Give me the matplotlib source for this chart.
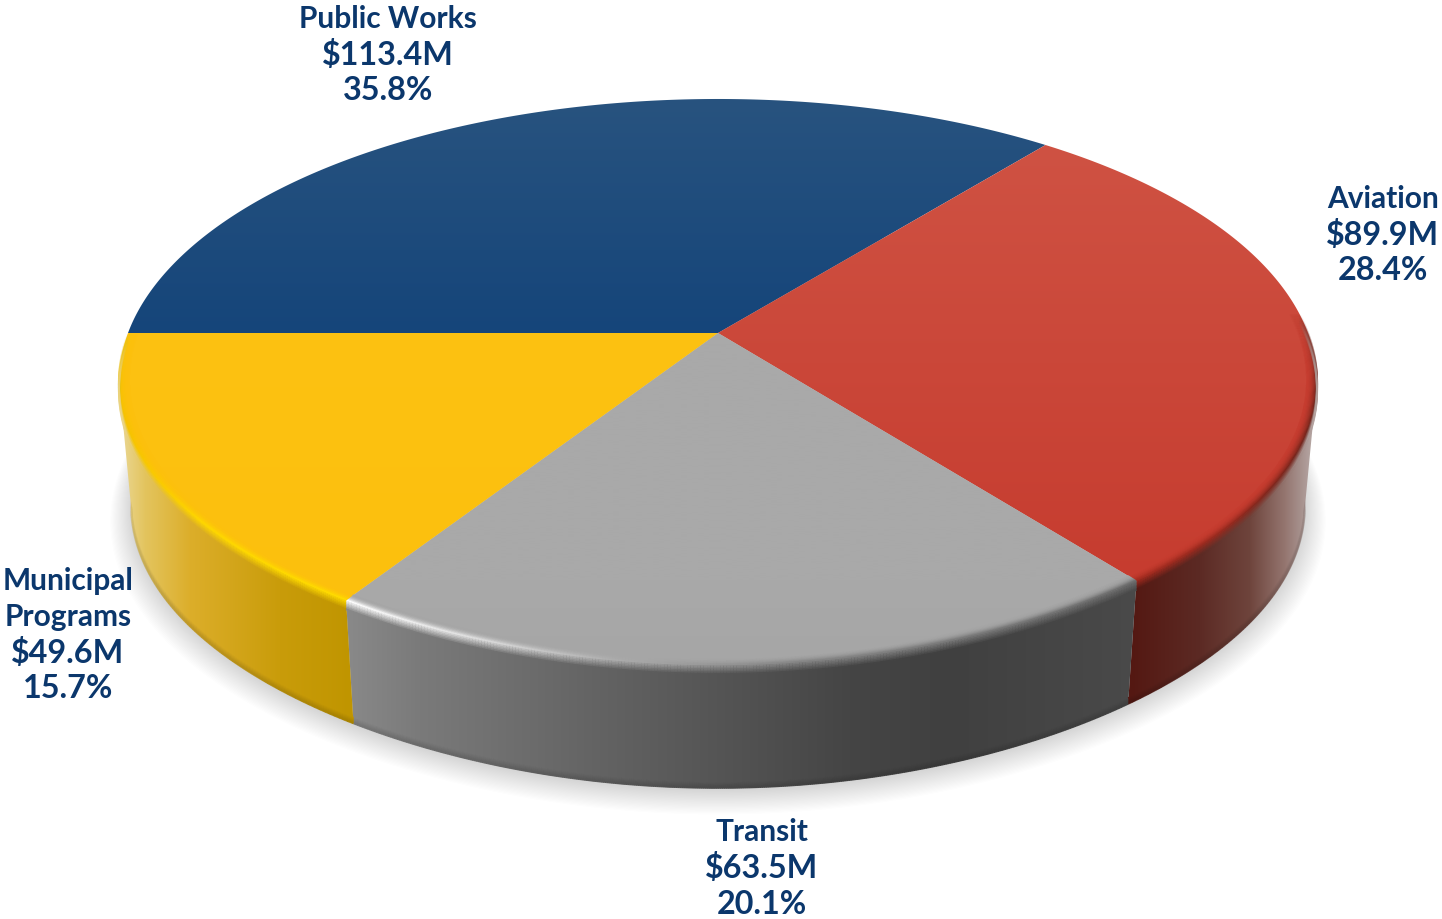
"""Recreate the 3D budget pie chart with patches and clipped gradients."""

import numpy as np
import matplotlib

matplotlib.use("Agg")
import matplotlib.pyplot as plt
from matplotlib.collections import LineCollection
from matplotlib.colors import to_rgb
from matplotlib.patches import Polygon

# Data, clockwise starting at the left edge of the pie
names = ["Public Works", "Aviation", "Transit", "Municipal\nPrograms"]
amounts = [113.4, 89.9, 63.5, 49.6]

# Slice top colours (far edge, near edge)
top_colors = [
    ("#28537f", "#15457a"),
    ("#cf5243", "#c63c2f"),
    ("#a9a9a9", "#a6a6a6"),
    ("#fcc212", "#fdc00d"),
]
# Side wall gradients: x stops and colours
side_stops = {
    1: ([1131, 1200, 1250, 1285, 1300, 1312], ["#541812", "#5c2a24", "#6e443c", "#94756f", "#a58f8b", "#b5a5a2"]),
    2: ([343, 420, 600, 850, 950, 1140], ["#8a8a8a", "#7a7a7a", "#636363", "#454545", "#404040", "#4a4a4a"]),
    3: ([122, 145, 190, 280, 352], ["#ead690", "#e3c45e", "#dcae2a", "#c99c0a", "#c09500"]),
}
# Rim highlight colours along x
rim_stops = {
    1: ([1131, 1220, 1312], ["#a52c20", "#962a1f", "#6e241b"]),
    2: ([343, 480, 620, 800, 1140], ["#ffffff", "#dcdcdc", "#aaaaaa", "#858585", "#6c6c6c"]),
    3: ([120, 200, 350], ["#f6c200", "#ffd800", "#ffdb00"]),
}
label_centers = {
    "Public Works": (388, 55),
    "Aviation": (1383, 235),
    "Transit": (762, 868),
    "Municipal\nPrograms": (68, 635),
}

# Pie projection
CX, CY = 718, 333
HALF_W, HALF_H = 590, 274.5
PERSP = 0.173
NEAR_PINCH = 0.05
WALL_SCALE = 0.98
WALL_CY = 457
WALL_B = 274
LINE_STEP = 36


def project(theta, r=1.0, cy=CY, a=HALF_W, b=HALF_H):
    u = r * np.cos(theta)
    v = r * np.sin(theta)
    w = 1 + PERSP * v
    pinch = 1 - NEAR_PINCH * np.minimum(v, 0) ** 4
    return CX + a * u / w * pinch, cy - b * v / w


def wall(theta, r=1.0, dy=0.0):
    return project(theta, r, cy=WALL_CY + dy, a=HALF_W * WALL_SCALE, b=WALL_B)


def gradient_fill(ax, poly, rgb_image, zorder):
    patch = Polygon(poly, closed=True, facecolor="none", edgecolor="none", zorder=zorder)
    ax.add_patch(patch)
    im = ax.imshow(rgb_image, extent=(0, 1442, 919, 0), aspect="auto",
                   interpolation="bilinear", zorder=zorder)
    im.set_clip_path(patch)


def interp_colors(x, stops):
    xs, cols = stops
    rgb = np.array([to_rgb(c) for c in cols])
    return np.stack([np.interp(x, xs, rgb[:, i]) for i in range(3)], axis=-1)


def to_extreme(th):
    """Cut an arc at the point furthest from the pie centre in x."""
    x, _ = project(th)
    k = np.argmax(np.abs(x - CX))
    return th[: k + 1] if k > len(th) / 2 else th[k:]


def end_fade(th, t0, t1, fade_low, fade_high):
    alpha = np.ones_like(th)
    span = np.radians(18)
    if fade_low:
        alpha = np.minimum(alpha, np.clip((th - t0) / span, 0, 1))
    if fade_high:
        alpha = np.minimum(alpha, np.clip((t1 - th) / span, 0, 1))
    return alpha


def main():
    fig = plt.figure(figsize=(14.42, 9.19), dpi=100)
    ax = fig.add_axes([0, 0, 1, 1])

    shares = np.array(amounts) / sum(amounts)
    edges = np.pi - np.concatenate([[0], np.cumsum(shares)]) * 2 * np.pi
    wall_range = {
        1: (edges[2], np.radians(4)),
        2: (edges[3], edges[2]),
        3: (edges[4], edges[3]),
    }
    fades = {1: (False, True), 2: (False, False), 3: (True, False)}

    # Soft floor shadow
    full = np.linspace(0, 2 * np.pi, 400)
    for s in np.linspace(1.034, 0.99, 26):
        wx, wy = wall(full, r=s, dy=(s - 0.99) * 280)
        ax.fill(wx, wy, color="#707070", alpha=0.013, lw=0, zorder=1)

    xgrid = np.linspace(0, 1442, 1442)

    # Side walls
    for i, (t0, t1) in wall_range.items():
        th = to_extreme(np.linspace(t0, t1, 400))
        tx, ty = project(th)
        bx, by = wall(th)
        poly = np.column_stack([np.r_[tx, bx[::-1]], np.r_[ty, by[::-1]]])
        img = interp_colors(xgrid, side_stops[i])[np.newaxis, :, :]
        gradient_fill(ax, poly, img, 2)

        # darker lip along the wall bottom, gone by the silhouette
        alpha = end_fade(th, th[0], th[-1], *fades[i])
        for k, d in enumerate(np.linspace(-6, -0.5, 7)):
            lx, ly = wall(th, dy=d)
            pts = np.column_stack([lx, ly])
            segs = np.stack([pts[:-1], pts[1:]], axis=1)
            base = interp_colors(lx[:-1], side_stops[i])
            cols = np.column_stack([np.clip(base * (1 - 0.022 * k), 0, 1), alpha[:-1]])
            ax.add_collection(LineCollection(segs, colors=cols, linewidths=1.4, zorder=3))

    # Slice tops
    ygrid = np.linspace(0, 1, 400)
    for i in range(len(amounts)):
        th = np.linspace(edges[i], edges[i + 1], 300)
        ex, ey = project(th)
        poly = np.column_stack([np.r_[CX, ex], np.r_[CY, ey]])
        c0, c1 = [np.array(to_rgb(c)) for c in top_colors[i]]
        y0, y1 = ey.min(), max(ey.max(), CY)
        y = ygrid * 919
        f = np.clip((y - y0) / max(y1 - y0, 1), 0, 1)
        img = (c0[None, :] * (1 - f[:, None]) + c1[None, :] * f[:, None])[:, np.newaxis, :]
        gradient_fill(ax, poly, img, 4)

    # Bevel rings between the top and the wall
    for i, (t0, t1) in wall_range.items():
        th = np.linspace(t0, t1, 260)
        alpha = end_fade(th, t0, t1, *fades[i])[:-1]
        top_rgb = np.array(to_rgb(top_colors[i][1]))
        for t in np.linspace(0, 1, 16):
            if t < 0.6:
                r, dy = 0.984 + 0.016 * t / 0.6, 0.0
            else:
                r, dy = 1.0, 9 * (t - 0.6) / 0.4
            rx, ry = project(th, r, cy=CY + dy)
            pts = np.column_stack([rx, ry])
            segs = np.stack([pts[:-1], pts[1:]], axis=1)
            hi = interp_colors(rx[:-1], rim_stops[i])
            if t < 0.6:
                g = (t / 0.6) ** 2
                cols = top_rgb * (1 - g) + hi * g
            else:
                g = (t - 0.6) / 0.4
                cols = hi * (1 - g) + interp_colors(rx[:-1], side_stops[i]) * g
            ax.add_collection(LineCollection(segs, colors=np.column_stack([cols, alpha]),
                                             linewidths=1.5, zorder=5))

    # Labels, one text per line so the figures can run a little larger
    total = sum(amounts)
    for name, amount in zip(names, amounts):
        x, y = label_centers[name]
        rows = name.split("\n") + [f"${amount:.1f}M", f"{amount / total * 100:.1f}%"]
        top = y - LINE_STEP * (len(rows) - 1) / 2
        for k, row in enumerate(rows):
            size = 23.3 if k >= len(rows) - 2 else 21.5
            ax.text(x, top + k * LINE_STEP, row, ha="center", va="center", fontsize=size,
                    fontweight="bold", family="Lato", color="#0b376c", zorder=6)

    ax.set_xlim(0, 1442)
    ax.set_ylim(919, 0)
    ax.axis("off")
    fig.savefig("out.png", dpi=100, facecolor="white")


if __name__ == "__main__":
    main()
